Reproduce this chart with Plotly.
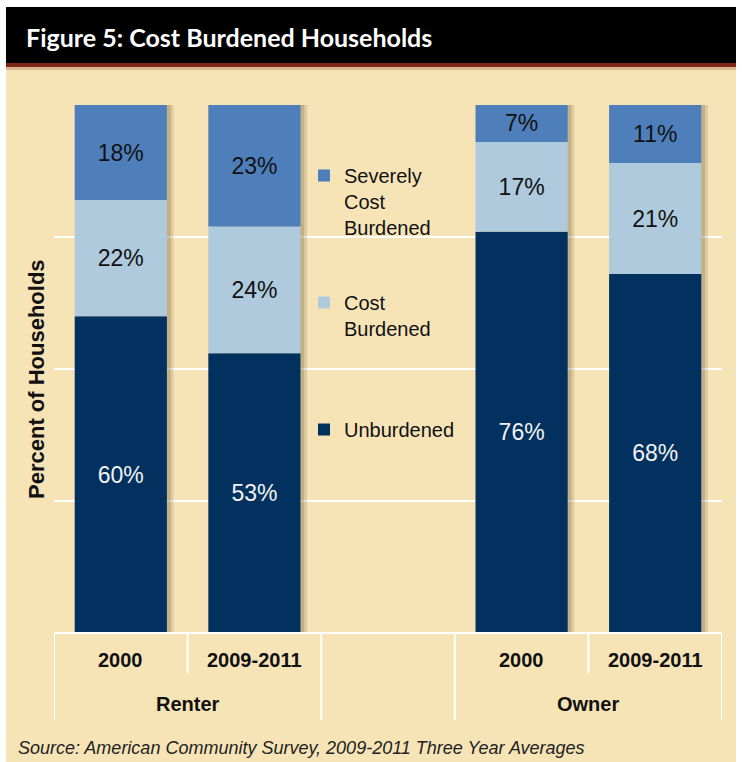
import plotly.graph_objects as go

# ---------------- data ----------------
categories = ["Renter 2000", "Renter 2009-2011", "gap", "Owner 2000", "Owner 2009-2011"]
year_labels = ["2000", "2009-2011", "", "2000", "2009-2011"]
group_labels = ["Renter", "Owner"]
group_members = [[0, 1], [3, 4]]

unburdened = [60, 53, None, 76, 68]
cost_burdened = [22, 24, None, 17, 21]
severely_burdened = [18, 23, None, 7, 11]

series_names = ["Unburdened", "Cost<br>Burdened", "Severely<br>Cost<br>Burdened"]
series_values = [unburdened, cost_burdened, severely_burdened]
series_colors = ["#03315F", "#AECADC", "#4E7FBB"]
text_colors = ["#F2F2F2", "#111111", "#111111"]

title_text = "Figure 5: Cost Burdened Households"
y_title = "Percent of Households"
source_text = "Source: American Community Survey, 2009-2011 Three Year Averages"

# ---------------- geometry helpers ----------------
W, H = 742, 762
PL, PR, PT, PB = 54, 722, 105, 633


def px_x(p):
    return (p - PL) / (PR - PL)


def px_y(p):
    return (PB - p) / (PB - PT)


NARROW = "Liberation Sans Narrow, Arial Narrow, Liberation Sans, Arial, sans-serif"
ARIAL = "Liberation Sans, Arial, sans-serif"
BAR_W = 0.69

fig = go.Figure()

# soft drop shadows behind bars (totals from data)
totals = [None if u is None else u + c + s for u, c, s in zip(unburdened, cost_burdened, severely_burdened)]
for shift, alpha in [(0.05, 0.16), (0.028, 0.2)]:
    fig.add_trace(go.Bar(
        x=categories, y=totals, width=BAR_W, offset=-BAR_W / 2 + shift,
        marker=dict(color=f"rgba(95,75,35,{alpha})", line=dict(width=0)),
        showlegend=False, hoverinfo="skip",
    ))

# stacked segments (overlay mode with bases computed from the data)
bases = [[0 if v is not None else None for v in unburdened]]
run = [0 if v is not None else None for v in unburdened]
for vals in series_values[:-1]:
    run = [None if r is None else r + v for r, v in zip(run, vals)]
    bases.append(list(run))

for i, (name, vals, col, tcol) in enumerate(zip(series_names, series_values, series_colors, text_colors)):
    pad = "<br>\u00a0" * (3 - name.count("<br>") - 1)
    fig.add_trace(go.Bar(
        x=categories, y=vals, base=bases[i], width=BAR_W,
        name=name + pad, legendgroup=f"g{i}", legendrank=100 - i,
        marker=dict(color=col, line=dict(width=0)),
        text=[None if v is None else f"{v}%" for v in vals],
        textposition="inside", insidetextanchor="middle",
        textfont=dict(family=ARIAL, size=23, color=tcol),
        constraintext="none",
    ))

shapes = []
# background panel, title bar, red rule
shapes.append(dict(type="rect", xref="paper", yref="paper", layer="below",
                   x0=px_x(6), x1=px_x(736), y0=px_y(762), y1=px_y(7),
                   fillcolor="#F6E4B7", line=dict(width=0)))
shapes.append(dict(type="rect", xref="paper", yref="paper", layer="below",
                   x0=px_x(6), x1=px_x(736), y0=px_y(64), y1=px_y(7),
                   fillcolor="#000000", line=dict(width=0)))
shapes.append(dict(type="rect", xref="paper", yref="paper", layer="below",
                   x0=px_x(6), x1=px_x(736), y0=px_y(67), y1=px_y(63),
                   fillcolor="#7E2616", line=dict(width=0)))
shapes.append(dict(type="rect", xref="paper", yref="paper", layer="below",
                   x0=px_x(6), x1=px_x(736), y0=px_y(70), y1=px_y(67),
                   fillcolor="rgba(126,38,22,0.25)", line=dict(width=0)))

# category dividers (short between years, long between groups)
n = len(categories)
for k in range(n + 1):
    pos = k - 0.5
    long_div = k in (0, 2, 3, n)
    shapes.append(dict(type="line", xref="x", yref="paper",
                       x0=pos, x1=pos, y0=px_y(633), y1=px_y(720 if long_div else 673),
                       line=dict(color="white", width=2)))
shapes.append(dict(type="line", xref="paper", yref="paper", x0=0, x1=1,
                   y0=0, y1=0, line=dict(color="white", width=2)))

annotations = []
annotations.append(dict(text=title_text, xref="paper", yref="paper",
                        x=px_x(24), y=px_y(37), xanchor="left", yanchor="middle",
                        showarrow=False,
                        font=dict(family="Lato, Open Sans, sans-serif", size=25, color="white", weight="bold")))
annotations.append(dict(text=y_title, xref="paper", yref="paper",
                        x=px_x(36), y=px_y(379), xanchor="center", yanchor="middle",
                        textangle=-90, showarrow=False,
                        font=dict(family=ARIAL, size=22, color="#111111", weight="bold")))
for i, lab in enumerate(year_labels):
    if lab:
        annotations.append(dict(text=lab, xref="x", yref="paper", x=i, y=px_y(660),
                                xanchor="center", yanchor="middle", showarrow=False,
                                font=dict(family=NARROW, size=20, color="#111111", weight="bold")))
for lab, mem in zip(group_labels, group_members):
    annotations.append(dict(text=lab, xref="x", yref="paper", x=sum(mem) / len(mem), y=px_y(704),
                            xanchor="center", yanchor="middle", showarrow=False,
                            font=dict(family=NARROW, size=20, color="#111111", weight="bold")))
annotations.append(dict(text=source_text, xref="paper", yref="paper",
                        x=px_x(16), y=px_y(748), xanchor="left", yanchor="middle",
                        showarrow=False,
                        font=dict(family=NARROW, size=18, color="#222222", style="italic")))

fig.update_layout(
    width=W, height=H,
    margin=dict(l=PL, r=W - PR, t=PT, b=H - PB, pad=0),
    paper_bgcolor="white", plot_bgcolor="rgba(0,0,0,0)",
    barmode="overlay",
    xaxis=dict(type="category", categoryorder="array", categoryarray=categories,
               range=[-0.5, n - 0.5], showticklabels=False, showgrid=False,
               zeroline=False, showline=False, ticks=""),
    yaxis=dict(range=[0, 100], tickvals=[0, 25, 50, 75, 100], showticklabels=False,
               showgrid=True, gridcolor="white", gridwidth=2, zeroline=False,
               showline=False, ticks=""),
    legend=dict(x=px_x(304), y=px_y(156), xanchor="left", yanchor="top",
                traceorder="grouped", tracegroupgap=46, valign="top",
                bgcolor="rgba(0,0,0,0)", borderwidth=0,
                font=dict(family=NARROW, size=20, color="#111111")),
    shapes=shapes, annotations=annotations,
    showlegend=True,
)

fig.write_html("out.html")
